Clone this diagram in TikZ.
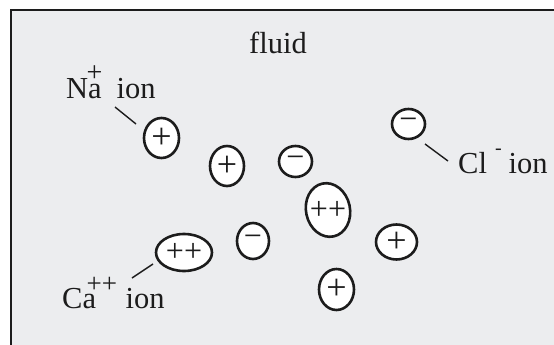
\documentclass[tikz,border=0pt]{standalone}
\usepackage{fontspec}
\setmainfont{Liberation Serif}
\usetikzlibrary{shapes.geometric}
\definecolor{fluidgray}{RGB}{236,237,239}
\definecolor{inkblack}{RGB}{28,28,28}
\begin{document}
\begin{tikzpicture}[x=1pt,y=-1pt,
  ion/.style={ellipse, draw=inkblack, line width=2.6pt, fill=white, inner sep=0pt,
              text=inkblack, font=\fontsize{36}{36}\selectfont},
  minus/.style={font=\fontsize{32}{32}\selectfont},
  double/.style={font=\fontsize{32}{32}\selectfont},
  sign/.style={inner sep=0pt, text=inkblack},
  lbl/.style={anchor=base west, inner sep=0pt, text=inkblack, font=\fontsize{30.5}{36}\selectfont},
  leader/.style={draw=inkblack, line width=1.4pt}]
\useasboundingbox (0,0) rectangle (554,345);
\fill[white] (0,0) rectangle (554,345);

% the fluid container, running off the right and bottom edges
\begin{scope}
  \clip (0,0) rectangle (554,345);
  \draw[line width=2.5pt, draw=inkblack, fill=fluidgray] (11,10) rectangle (620,420);
\end{scope}

\node[lbl] (fluid) at (249,53) {fluid};

% ions
\node[ion, minimum width=35, minimum height=40] (na) at (161.5,138) {+};
\node[ion, minimum width=34, minimum height=40] (p1) at (227,166) {+};
\node[ion, minus, minimum width=33, minimum height=31] (m1) at (295.5,161.5) {−};
\node[ion, minimum width=44, minimum height=54, rotate=12] (cabig) at (328,210) {};
\node[sign, double] (cabigsign) at (cabig.center) {++};
\node[ion, minimum width=41, minimum height=35] (p2) at (396.5,242) {+};
\node[ion, minimum width=35, minimum height=41] (p3) at (336.5,289.5) {+};
\node[ion, double, minimum width=56, minimum height=37] (ca) at (184,252.5) {++};
\node[ion, minus, minimum width=32, minimum height=36] (m2) at (253,241) {−};
\node[ion, minus, minimum width=33, minimum height=30] (cl) at (408.5,124) {−};

% labels
\node[lbl] (nalabel) at (66,98)
  {N\makebox[0pt][l]{\kern-1.5pt\raisebox{16.5pt}{\fontsize{28}{28}\selectfont +}}a\hspace*{15pt}ion};
\node[lbl] (cllabel) at (458,173)
  {Cl\makebox[0pt][l]{\kern8pt\raisebox{18.5pt}{\fontsize{20}{20}\selectfont -}}\hspace*{21.5pt}ion};
\node[lbl] (calabel) at (62,308)
  {C\makebox[0pt][l]{\kern4pt\raisebox{15.5pt}{\fontsize{27}{27}\selectfont ++}}a\hspace*{29.5pt}ion};

% leader lines from labels to ions
\coordinate (naA) at (115,107);
\coordinate (naB) at (136,124);
\draw[leader] (naA) -- (naB);
\coordinate (clA) at (425,144);
\coordinate (clB) at (448,161);
\draw[leader] (clA) -- (clB);
\coordinate (caA) at (132,278);
\coordinate (caB) at (153,264);
\draw[leader] (caA) -- (caB);
\end{tikzpicture}
\end{document}
